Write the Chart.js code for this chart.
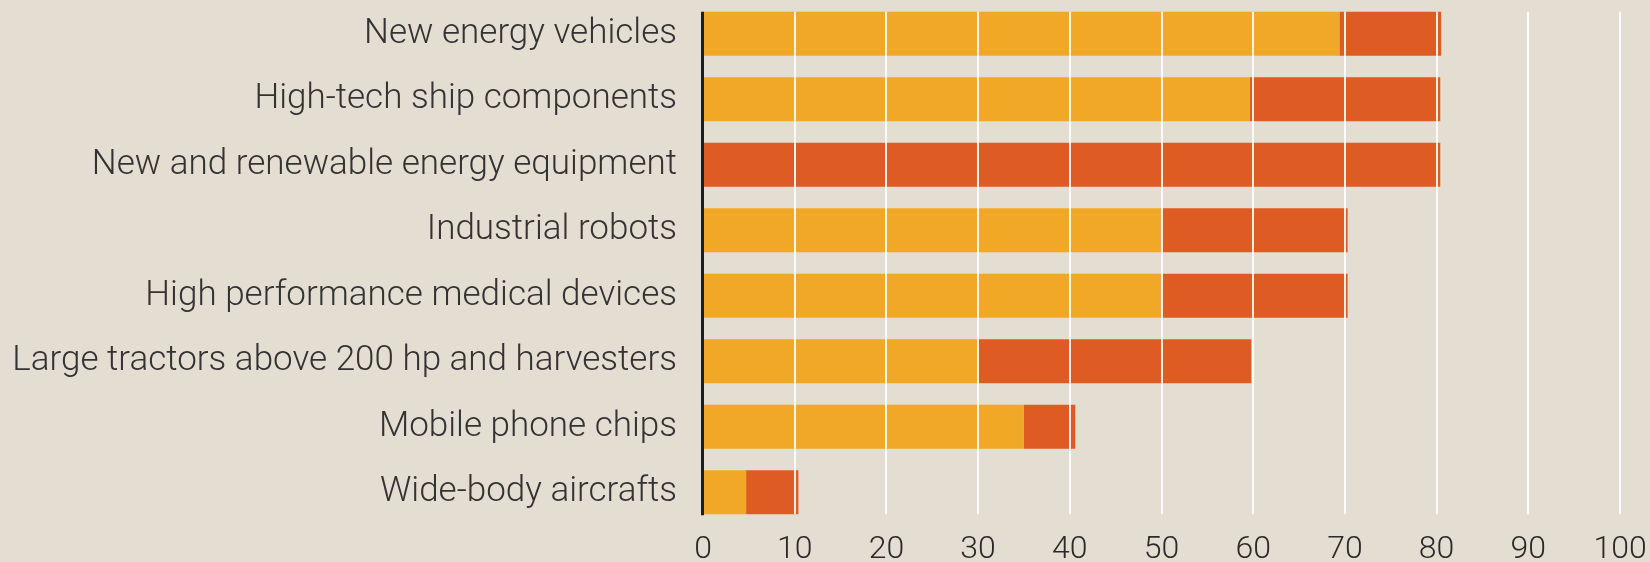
<!DOCTYPE html>
<html><head><meta charset="utf-8">
<script src="https://cdn.jsdelivr.net/npm/chart.js"></script>
<style>html,body{margin:0;padding:0;background:#e4ddd1;}canvas{display:block;}</style>
</head><body>
<canvas id="c" width="1650" height="562"></canvas>
<script>
const categories = ["New energy vehicles","High-tech ship components","New and renewable energy equipment","Industrial robots","High performance medical devices","Large tractors above 200 hp and harvesters","Mobile phone chips","Wide-body aircrafts"];
const firstPart = [69.4, 59.6, 0, 49.9, 49.9, 30, 35, 4.7];
const secondPart = [11.1, 20.8, 80.4, 20.4, 20.4, 29.8, 5.6, 5.7];
const xTicks = [0,10,20,30,40,50,60,70,80,90,100];

const gridPlugin = {
  id: 'gridOver',
  afterDatasetsDraw(chart) {
    const ctx = chart.ctx;
    const xs = chart.scales.x;
    const meta = chart.getDatasetMeta(1);
    const first = meta.data[0], last = meta.data[meta.data.length-1];
    const top = first.y - first.height/2;
    const bottom = last.y + last.height/2;
    ctx.save();
    ctx.strokeStyle = 'rgba(255,255,255,0.9)';
    ctx.lineWidth = 2;
    xTicks.forEach(v => {
      if (v === 0) return;
      const x = Math.round(xs.getPixelForValue(v));
      ctx.beginPath(); ctx.moveTo(x, top); ctx.lineTo(x, bottom); ctx.stroke();
    });
    ctx.strokeStyle = '#1e1e1e';
    ctx.lineWidth = 3;
    const x0 = xs.getPixelForValue(0) - 0.5;
    ctx.beginPath(); ctx.moveTo(x0, top); ctx.lineTo(x0, bottom + 1); ctx.stroke();
    ctx.restore();
  }
};

new Chart(document.getElementById('c'), {
  type: 'bar',
  data: {
    labels: categories,
    datasets: [
      { data: firstPart, backgroundColor: '#f0a826', borderWidth: 0 },
      { data: secondPart, backgroundColor: '#df5b24', borderWidth: 0 }
    ]
  },
  options: {
    indexAxis: 'y',
    responsive: false,
    animation: false,
    devicePixelRatio: 1,
    layout: { padding: { top: 1, right: 30, left: 0, bottom: 0 } },
    plugins: { legend: { display: false }, tooltip: { enabled: false } },
    datasets: { bar: { categoryPercentage: 1, barPercentage: 0.672 } },
    scales: {
      x: {
        stacked: true, min: 0, max: 100,
        afterBuildTicks(s) { s.ticks = xTicks.map(v => ({ value: v })); },
        grid: { display: false, drawTicks: true, tickLength: 6 },
        border: { display: false },
        ticks: { padding: 0, color: '#2a2a2a', font: { family: 'Roboto', weight: '300', size: 32 } },
        afterFit(s) { s.height = 37; }
      },
      y: {
        stacked: true,
        grid: { display: false, drawTicks: true, tickLength: 26 },
        border: { display: false },
        ticks: { padding: 0, color: '#333333', font: { family: 'Roboto', weight: '300', size: 35, lineHeight: 0.02 } },
        afterFit(s) { s.width = 703; }
      }
    }
  },
  plugins: [gridPlugin]
});
</script>
</body></html>
